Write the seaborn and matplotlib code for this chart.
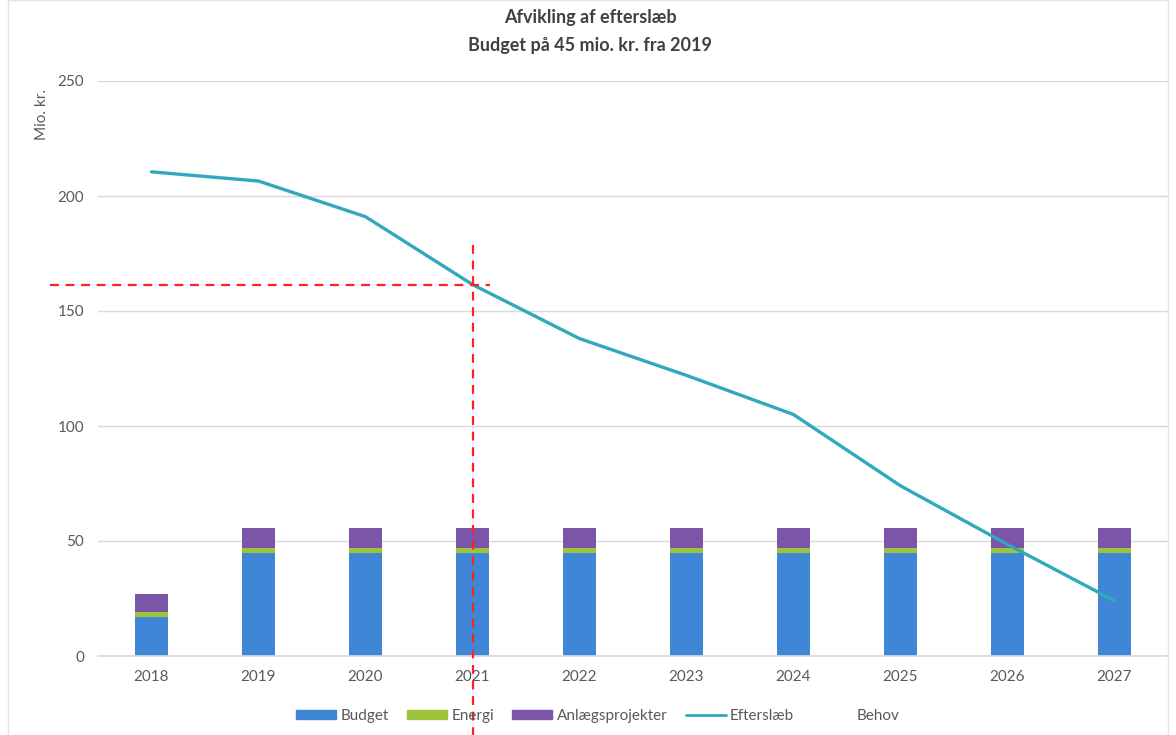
import matplotlib
matplotlib.use("Agg")
import matplotlib.pyplot as plt
import seaborn as sns
import numpy as np
import pandas as pd
from matplotlib.patches import Patch
from matplotlib.lines import Line2D

# Data (mio. kr.)
years = ["2018", "2019", "2020", "2021", "2022", "2023", "2024", "2025", "2026", "2027"]
budget = [17, 45, 45, 45, 45, 45, 45, 45, 45, 45]
energi = [2, 2, 2, 2, 2, 2, 2, 2, 2, 2]
anlaeg = [8, 8.5, 8.5, 8.5, 8.5, 8.5, 8.5, 8.5, 8.5, 8.5]
efterslaeb = [210.5, 206.5, 191, 161.5, 138, 122, 105, 74, 48.5, 24]

colors = {
    "Budget": "#3F86D6",
    "Energi": "#9CC43C",
    "Anlægsprojekter": "#7A55A8",
    "Efterslæb": "#31A8BC",
    "grid": "#D9D9D9",
    "text": "#595959",
}

sns.set_theme(style="white")
plt.rcParams["font.family"] = ["Lato", "DejaVu Sans"]

df = pd.DataFrame({"year": years, "budget": budget, "energi": energi, "anlaeg": anlaeg})
df["lvl1"] = df["budget"]
df["lvl2"] = df["budget"] + df["energi"]
df["lvl3"] = df["lvl2"] + df["anlaeg"]

fig = plt.figure(figsize=(11.76, 7.35), dpi=100)
ax = fig.add_axes([98 / 1176, 79 / 735, 1070 / 1176, 575 / 735])

# stacked bars drawn back to front as cumulative totals
for col, name in [("lvl3", "Anlægsprojekter"), ("lvl2", "Energi"), ("lvl1", "Budget")]:
    sns.barplot(data=df, x="year", y=col, color=colors[name], width=0.31,
                saturation=1, linewidth=0, ax=ax, zorder=2)

sns.lineplot(x=np.arange(len(years)), y=efterslaeb, color=colors["Efterslæb"],
             linewidth=2.4, ax=ax, zorder=4)

# red dashed guide lines at 2021
ax.plot([-0.95, 3.16], [161.5, 161.5], color="#FF2020", lw=1.6, ls=(0, (4, 3)),
        clip_on=False, zorder=5)
ax.plot([3.0, 3.0], [178.5, -34.5], color="#FF2020", lw=1.6, ls=(0, (4, 3)),
        clip_on=False, zorder=5)

ax.set_xlim(-0.5, len(years) - 0.5)
ax.set_ylim(0, 250)
ax.set_yticks(range(0, 251, 50))
ax.yaxis.grid(True, color=colors["grid"], lw=1)
ax.set_axisbelow(True)
for s in ["top", "right", "left"]:
    ax.spines[s].set_visible(False)
ax.spines["bottom"].set_color(colors["grid"])
ax.tick_params(axis="both", length=0, labelsize=11, labelcolor=colors["text"], pad=10)
ax.set_xlabel("")
ax.set_ylabel("")

fig.text(42 / 1176, 1 - 115 / 735, "Mio. kr.", rotation=90, ha="center", va="center",
         fontsize=11, color=colors["text"])

fig.text(590 / 1176, 1 - 17 / 735, "Afvikling af efterslæb", ha="center", va="center",
         fontsize=13, fontweight="bold", color="#404040")
fig.text(590 / 1176, 1 - 45 / 735, "Budget på 45 mio. kr. fra 2019", ha="center", va="center",
         fontsize=13, fontweight="bold", color="#404040")

handles = [
    Patch(color=colors["Budget"]),
    Patch(color=colors["Energi"]),
    Patch(color=colors["Anlægsprojekter"]),
    Line2D([], [], color=colors["Efterslæb"], lw=2),
    Line2D([], [], color="none"),
]
labels = ["Budget", "Energi", "Anlægsprojekter", "Efterslæb", "Behov"]
fig.legend(handles, labels, loc="center", bbox_to_anchor=(598 / 1176, 1 - 716 / 735),
           ncol=5, frameon=False, fontsize=11, labelcolor=colors["text"],
           handlelength=2.6, handleheight=0.5, columnspacing=1.2, handletextpad=0.3)

fig.add_artist(plt.Rectangle((8 / 1176, 0), 1 - 16 / 1176, 1, fill=False,
                             edgecolor="#E4E4E4", lw=1, transform=fig.transFigure))

fig.savefig("out.png", dpi=100, facecolor="white")
